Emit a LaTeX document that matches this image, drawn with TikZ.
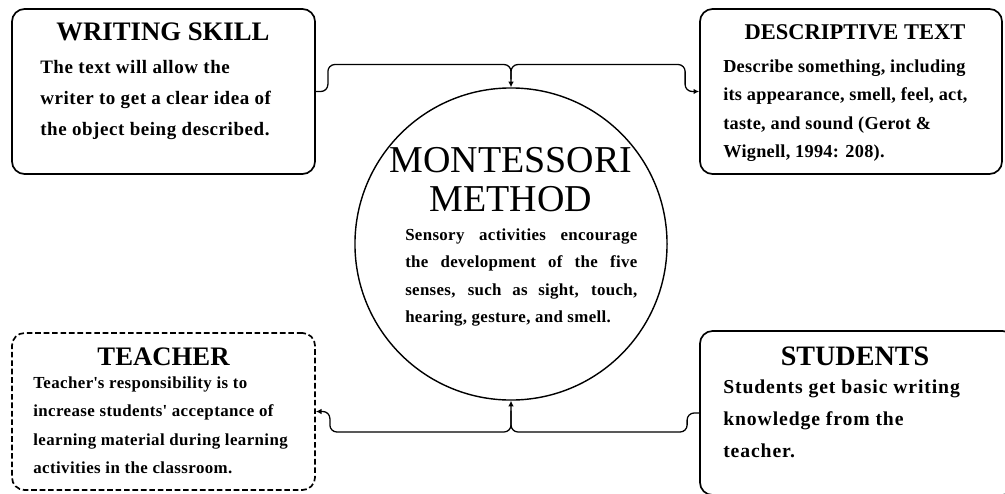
\documentclass[tikz,border=0pt]{standalone}
\usepackage{fontspec}
\setmainfont{Liberation Serif}
\usetikzlibrary{arrows.meta,calc}

\tikzset{
  box/.style={draw, line width=1.2pt, rounded corners=9pt, minimum width=7.575cm, minimum height=4.125cm},
  dashbox/.style={box, dash pattern=on 4pt off 2pt},
  heading/.style={anchor=base, inner sep=0pt, font=\bfseries\fontsize{#1}{#1}\selectfont},
  body/.style n args={3}{anchor=north west, inner sep=0pt, align=left,
    font=\fontsize{#1}{#2}\selectfont\bfseries\addfontfeatures{LetterSpace=#3}},
  conn/.style={line width=0.9pt, rounded corners=5pt, -{Latex[length=4pt,width=4pt]}}
}

\begin{document}
\begin{tikzpicture}[x=0.025cm, y=-0.025cm]
\useasboundingbox (0,0) rectangle (1005,493);
\clip (0,0) rectangle (1005,493);

\node[box] (skill) at (163.5,91.5) {};
\node[box, minimum width=7.55cm] (desc) at (851,91.5) {};
\node[dashbox, minimum height=3.925cm] (teacher) at (163.5,411.5) {};
\node[box, minimum width=7.875cm, minimum height=4.1cm] (students) at (857.5,413) {};
\node[draw, circle, line width=1pt, minimum size=7.8cm] (mm) at (511,244) {};

\node[heading=19] (skilltitle) at (163,40) {WRITING SKILL};
\node[heading=16] (desctitle) at (855,39) {DESCRIPTIVE TEXT};
\node[heading=19] (teachertitle) at (163.5,365) {TEACHER};
\node[heading=20] (studentstitle) at (855,365) {STUDENTS};
\node[anchor=north, inner sep=0pt, align=center, font=\fontsize{27}{27.6}\selectfont] (mmtitle) at (511,147) {MONTESSORI\\METHOD};

\node[body={13.5}{22}{3}] (skilltext) at (40,60) {The text will allow the\\writer to get a clear idea of\\the object being described.};
\node[body={13}{20.1}{1.5}] (desctext) at (723,59.6) {Describe something, including\\its appearance, smell, feel, act,\\taste, and sound (Gerot \&\\Wignell, 1994: 208).};
\node[body={12}{20.1}{2.5}] (teachertext) at (33,376.5) {Teacher\textquotesingle s responsibility is to\\increase students\textquotesingle{} acceptance of\\learning material during learning\\activities in the classroom.};
\node[body={14}{22.8}{4.5}] (studentstext) at (723,379.6) {Students get basic writing\\knowledge from the\\teacher.};
\node[body={12}{19.4}{2}, text width=5.8cm, align=justify] (mmtext) at (405,228.5) {Sensory activities encourage\linebreak the development of the five\linebreak senses, such as sight, touch,\linebreak hearing, gesture, and smell.};

% braces above and below the circle
\draw[conn] (skill.east) -- ++(12,0) -- ++(0,-27) -| (mm.north);
\draw[conn] ($(mm.north)+(0,-8)$) |- ($(desc.west)+(-14,-27)$) -- ($(desc.west)+(-14,0)$) -- (desc.west);
\draw[conn] (students.west) -- ++(-12,0) -- ++(0,19) -| (mm.south);
\draw[conn] ($(mm.south)+(0,10)$) |- ($(teacher.east)+(14,20.5)$) -- ($(teacher.east)+(14,0)$) -- (teacher.east);
\end{tikzpicture}
\end{document}
